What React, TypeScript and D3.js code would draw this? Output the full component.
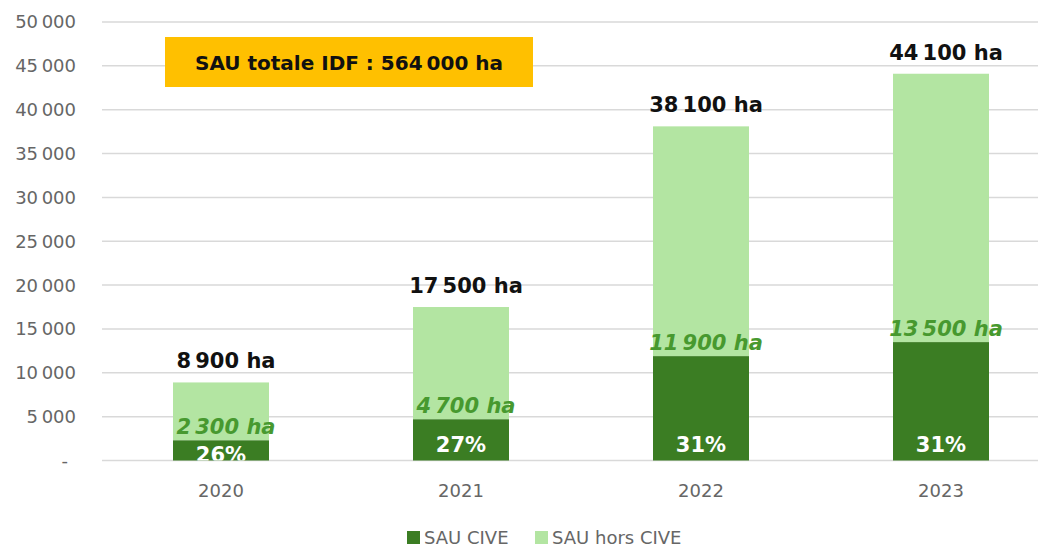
import React from 'react';
import * as d3 from 'd3';

const WIDTH = 1053;
const HEIGHT = 549;
const FONT = '"DejaVu Sans", sans-serif';

const years = ['2020', '2021', '2022', '2023'];
const civeHa = [2300, 4700, 11900, 13500];
const totalHa = [8900, 17500, 38100, 44100];
const seriesNames = ['SAU CIVE', 'SAU hors CIVE'];
const annotation = 'SAU totale IDF\u00a0: 564\u2009000 ha';

const DARK = '#3B7D23';
const LIGHT = '#B3E5A2';
const LABEL_GREEN = '#47992F';
const AXIS_GREY = '#666666';

const fr = d3.formatLocale({ decimal: ',', thousands: '\u2009', grouping: [3], currency: ['', ''] });
const fmt = fr.format(',d');

const App = () => {
  const x = d3.scaleBand<string>().domain(years).range([101, 1061]).paddingInner(0.6).paddingOuter(0.3);
  const y = d3.scaleLinear().domain([0, 50000]).range([460.5, 22]);
  const bw = x.bandwidth();

  return (
    <>
      <style>{`body{margin:0}`}</style>
      <svg width={WIDTH} height={HEIGHT} style={{ display: 'block', background: '#fff' }} fontFamily={FONT}>
        <defs>
          {years.map((yr, i) => (
            <clipPath id={`clip-${yr}`} key={yr}>
              <rect x={x(yr)} y={y(civeHa[i])} width={bw} height={y(0) - y(civeHa[i])} />
            </clipPath>
          ))}
        </defs>

        {/* grid + y labels */}
        {y.ticks(10).map((t) => (
          <g key={t}>
            <line x1={102} x2={1038} y1={y(t)} y2={y(t)} stroke="#D9D9D9" strokeWidth={1.5} />
            <text x={t === 0 ? 68 : 76} y={y(t)} dy="0.36em" textAnchor="end" fontSize={18} fill={AXIS_GREY}>
              {t === 0 ? '-' : fmt(t)}
            </text>
          </g>
        ))}

        {/* stacked bars */}
        {years.map((yr, i) => {
          const x0 = x(yr) as number;
          return (
            <g key={yr}>
              <rect x={x0} width={bw} y={y(totalHa[i])} height={y(civeHa[i]) - y(totalHa[i])} fill={LIGHT} />
              <rect x={x0} width={bw} y={y(civeHa[i])} height={y(0) - y(civeHa[i])} fill={DARK} />
            </g>
          );
        })}

        {/* labels */}
        {years.map((yr, i) => {
          const cx = (x(yr) as number) + bw / 2;
          const pct = Math.round((civeHa[i] / totalHa[i]) * 100);
          const pctY = Math.max(y(0) - 9, y(civeHa[i]) + 22);
          return (
            <g key={yr}>
              <text x={cx + 5} y={y(totalHa[i]) - 14} textAnchor="middle" fontSize={21} fontWeight="bold" fill="#111">
                {fmt(totalHa[i])} ha
              </text>
              <text x={cx + 5} y={y(civeHa[i]) - 6} textAnchor="middle" fontSize={21} fontWeight="bold" fontStyle="italic" fill={LABEL_GREEN}>
                {fmt(civeHa[i])} ha
              </text>
              <text x={cx} y={pctY} textAnchor="middle" fontSize={21} fontWeight="bold" fill="#fff" clipPath={`url(#clip-${yr})`}>
                {pct}%
              </text>
              <text x={cx} y={497} textAnchor="middle" fontSize={18} fill={AXIS_GREY}>
                {yr}
              </text>
            </g>
          );
        })}

        {/* annotation */}
        <rect x={165} y={37} width={368} height={50} fill="#FFC000" />
        <text x={349} y={70} textAnchor="middle" fontSize={20} fontWeight="bold" fill="#111">
          {annotation}
        </text>

        {/* legend */}
        {seriesNames.map((name, i) => {
          const lx = i === 0 ? 407 : 535;
          return (
            <g key={name}>
              <rect x={lx} y={531} width={13} height={13} fill={i === 0 ? DARK : LIGHT} />
              <text x={lx + 17} y={544} fontSize={18} fill={AXIS_GREY}>
                {name}
              </text>
            </g>
          );
        })}
      </svg>
    </>
  );
};

export default App;
